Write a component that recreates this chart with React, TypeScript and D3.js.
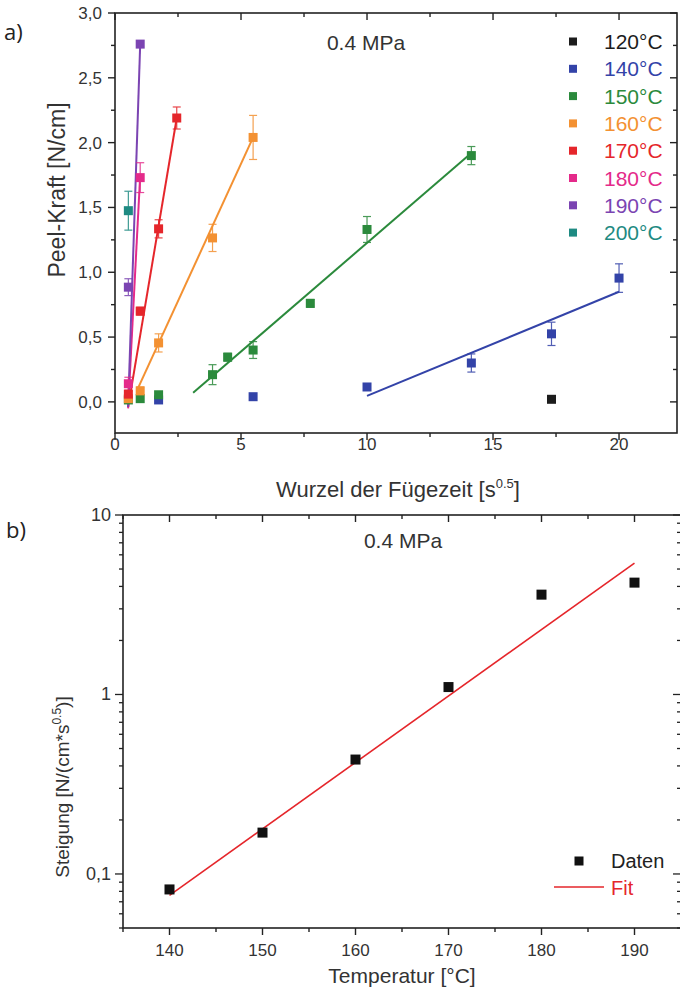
import React from 'react';
import * as d3 from 'd3';

// ---------- Chart a) data ----------
const seriesLabels = ['120°C', '140°C', '150°C', '160°C', '170°C', '180°C', '190°C', '200°C'];
const seriesColors = ['#1c1c1c', '#3343a8', '#2b8a3c', '#f39132', '#e5262b', '#e42a8a', '#7b44b2', '#1e8a82'];
// points: [sqrt(t), peel force, error]
const pts120 = [[17.32, 0.02, 0]];
const pts140 = [[1.73, 0.015, 0], [5.48, 0.04, 0], [10, 0.115, 0], [14.14, 0.3, 0.07], [17.32, 0.525, 0.09], [20, 0.955, 0.11]];
const pts150 = [[0.53, 0.015, 0], [1.0, 0.025, 0], [1.73, 0.055, 0], [3.87, 0.21, 0.077], [4.47, 0.345, 0.03], [5.48, 0.4, 0.065], [7.75, 0.76, 0.03], [10, 1.33, 0.1], [14.14, 1.9, 0.07]];
const pts160 = [[0.53, 0.025, 0], [1.0, 0.085, 0.03], [1.73, 0.455, 0.07], [3.87, 1.265, 0.105], [5.48, 2.04, 0.17]];
const pts170 = [[0.53, 0.06, 0.02], [1.0, 0.7, 0.03], [1.73, 1.335, 0.07], [2.45, 2.19, 0.085]];
const pts180 = [[0.53, 0.14, 0.05], [1.0, 1.73, 0.115]];
const pts190 = [[0.53, 0.885, 0.065], [1.0, 2.76, 0]];
const pts200 = [[0.53, 1.475, 0.15]];
const seriesPoints = [pts120, pts140, pts150, pts160, pts170, pts180, pts190, pts200];
// linear fits: [x1, y1, x2, y2]
const fits = [null, [10, 0.046, 20, 0.85], [3.1, 0.07, 14.14, 1.92], [0.9, 0.1, 5.48, 2.04], [0.52, -0.04, 2.45, 2.19], [0.52, -0.05, 1.0, 1.75], [0.52, -0.04, 1.0, 2.76], null];
const xTicksA = [0, 5, 10, 15, 20];
const yTicksA = [0, 0.5, 1, 1.5, 2, 2.5, 3];
const yTickLabelsA = ['0,0', '0,5', '1,0', '1,5', '2,0', '2,5', '3,0'];

// ---------- Chart b) data ----------
const temps = [140, 150, 160, 170, 180, 190];
const slopes = [0.082, 0.17, 0.434, 1.1, 3.6, 4.2];
const fitTemps = [140, 190];
const fitSlopes = [0.076, 5.4];
const xTicksB = [140, 150, 160, 170, 180, 190];
const yTicksB = [0.1, 1, 10];
const yTickLabelsB = ['0,1', '1', '10'];

const FONT = 'Liberation Sans, Arial, sans-serif';

export default function App() {
  const xA = d3.scaleLinear().domain([0, 22.3]).range([115, 677]);
  const yA = d3.scaleLinear().domain([-0.24, 3]).range([433, 13]);
  const xB = d3.scaleLinear().domain([135, 195]).range([123, 681]);
  const yB = d3.scaleLog().domain([0.05, 10]).range([928, 515]);

  const [ax0, ax1] = xA.range();
  const [ay0, ay1] = yA.range();
  const [bx0, bx1] = xB.range();
  const [by0, by1] = yB.range();

  const xMinorA = d3.range(0, 22.3, 2.5);
  const yMinorA = d3.range(-0.25, 3.01, 0.25).filter((v) => v >= -0.24);
  const xMinorB = d3.range(135, 196, 5);
  const yMinorB: number[] = [];
  [0.01, 0.1, 1].forEach((d) => {
    for (let k = 1; k <= 9; k++) {
      const v = d * k;
      if (v >= 0.05 && v <= 10) yMinorB.push(v);
    }
  });
  yMinorB.push(10);

  const line = d3.line<[number, number]>();
  const S = 9;

  return (
    <svg width={680} height={992} style={{ position: 'absolute', left: 0, top: 0, background: '#fff' }} fontFamily={FONT}>
      <rect x={0} y={0} width={680} height={992} fill="#fff" />
      {/* ===== Chart a ===== */}
      <text x={4} y={40} fontSize={22} fontFamily="Open Sans, sans-serif" fill="#222">a)</text>
      <rect x={ax0} y={ay1} width={ax1 - ax0} height={ay0 - ay1} fill="none" stroke="#222" strokeWidth={1.6} />
      {xMinorA.map((v, i) => {
        const major = Math.abs(v % 5) < 1e-6;
        const L = major ? 7 : 4;
        return (
          <g key={'xa' + i} stroke="#222" strokeWidth={1.4}>
            <line x1={xA(v)} x2={xA(v)} y1={ay0} y2={ay0 + L} />
            <line x1={xA(v)} x2={xA(v)} y1={ay1} y2={ay1 + L} />
          </g>
        );
      })}
      {yMinorA.map((v, i) => {
        const major = Math.abs((v * 2) - Math.round(v * 2)) < 1e-6;
        const L = major ? 7 : 4;
        return (
          <g key={'ya' + i} stroke="#222" strokeWidth={1.4}>
            <line x1={ax0 - L} x2={ax0} y1={yA(v)} y2={yA(v)} />
            <line x1={ax1 - L} x2={ax1} y1={yA(v)} y2={yA(v)} />
          </g>
        );
      })}
      {xTicksA.map((v) => (
        <text key={'xla' + v} x={xA(v)} y={450} fontSize={17} textAnchor="middle" fill="#333">{v}</text>
      ))}
      {yTicksA.map((v, i) => (
        <text key={'yla' + v} x={102} y={yA(v) + 6} fontSize={17} textAnchor="end" fill="#333">{yTickLabelsA[i]}</text>
      ))}
      <text x={(ax0 + ax1) / 2 + 2} y={497} fontSize={22} textAnchor="middle" fill="#333">
        Wurzel der Fügezeit [s<tspan fontSize={13} dy={-9}>0.5</tspan><tspan dy={9}>]</tspan>
      </text>
      <text transform={`translate(65,${190}) rotate(-90)`} fontSize={23} textAnchor="middle" fill="#333">Peel-Kraft [N/cm]</text>
      <text x={366} y={50} fontSize={21} textAnchor="middle" fill="#333">0.4 MPa</text>

      {fits.map((f, i) =>
        f ? (
          <path key={'fit' + i} d={line([[xA(f[0]), yA(f[1])], [xA(f[2]), yA(f[3])]]) || ''} stroke={seriesColors[i]} strokeWidth={2} fill="none" />
        ) : null
      )}
      {seriesPoints.map((pts, i) =>
        pts.map((p, j) =>
          p[2] > 0 ? (
            <g key={'eb' + i + '-' + j} stroke={seriesColors[i]} strokeWidth={1.2} opacity={0.85}>
              <line x1={xA(p[0])} x2={xA(p[0])} y1={yA(p[1] - p[2])} y2={yA(p[1] + p[2])} />
              <line x1={xA(p[0]) - 4} x2={xA(p[0]) + 4} y1={yA(p[1] - p[2])} y2={yA(p[1] - p[2])} />
              <line x1={xA(p[0]) - 4} x2={xA(p[0]) + 4} y1={yA(p[1] + p[2])} y2={yA(p[1] + p[2])} />
            </g>
          ) : null
        )
      )}
      {seriesPoints.map((pts, i) =>
        pts.map((p, j) => (
          <rect key={'pt' + i + '-' + j} x={xA(p[0]) - S / 2} y={yA(p[1]) - S / 2} width={S} height={S} fill={seriesColors[i]} />
        ))
      )}
      {seriesLabels.map((lab, i) => (
        <g key={'lg' + i}>
          <rect x={573 - 4} y={41.5 + i * 27.3 - 4} width={8} height={8} fill={seriesColors[i]} />
          <text x={604} y={41.5 + i * 27.3 + 7.5} fontSize={21} fill={seriesColors[i]}>{lab}</text>
        </g>
      ))}

      {/* ===== Chart b ===== */}
      <text x={6} y={538} fontSize={22} fontFamily="Open Sans, sans-serif" fill="#222">b)</text>
      <rect x={bx0} y={by1} width={bx1 - bx0} height={by0 - by1} fill="none" stroke="#222" strokeWidth={1.6} />
      {xMinorB.map((v, i) => {
        const major = v % 10 === 0;
        const L = major ? 7 : 4;
        return (
          <g key={'xb' + i} stroke="#222" strokeWidth={1.4}>
            <line x1={xB(v)} x2={xB(v)} y1={by0} y2={by0 + L} />
            <line x1={xB(v)} x2={xB(v)} y1={by1} y2={by1 + L} />
          </g>
        );
      })}
      {yMinorB.map((v, i) => {
        const major = yTicksB.some((t) => Math.abs(t - v) < 1e-9);
        const L = major ? 8 : 4;
        return (
          <g key={'yb' + i} stroke="#222" strokeWidth={1.3}>
            <line x1={bx0 - L} x2={bx0} y1={yB(v)} y2={yB(v)} />
            <line x1={bx1 - L} x2={bx1} y1={yB(v)} y2={yB(v)} />
          </g>
        );
      })}
      {xTicksB.map((v) => (
        <text key={'xlb' + v} x={xB(v)} y={956} fontSize={17} textAnchor="middle" fill="#333">{v}</text>
      ))}
      {yTicksB.map((v, i) => (
        <text key={'ylb' + v} x={111} y={yB(v) + 6} fontSize={18} textAnchor="end" fill="#333">{yTickLabelsB[i]}</text>
      ))}
      <text x={402} y={983} fontSize={21} textAnchor="middle" fill="#333">Temperatur [°C]</text>
      <text transform={`translate(69,787) rotate(-90)`} fontSize={19} textAnchor="middle" fill="#333">
        Steigung [N/(cm*s<tspan fontSize={12} dy={-8}>0.5</tspan><tspan dy={8}>)]</tspan>
      </text>
      <text x={403} y={548} fontSize={21} textAnchor="middle" fill="#333">0.4 MPa</text>
      <path d={line([[xB(fitTemps[0]), yB(fitSlopes[0])], [xB(fitTemps[1]), yB(fitSlopes[1])]]) || ''} stroke="#e5262b" strokeWidth={1.6} fill="none" />
      {temps.map((t, i) => (
        <rect key={'bp' + i} x={xB(t) - 5} y={yB(slopes[i]) - 5} width={10} height={10} fill="#111" />
      ))}
      <rect x={579 - 4.5} y={861 - 4.5} width={9} height={9} fill="#111" />
      <text x={611} y={868} fontSize={20} fill="#222">Daten</text>
      <line x1={554} x2={604} y1={887} y2={887} stroke="#e5262b" strokeWidth={1.6} />
      <text x={611} y={895} fontSize={20} fill="#e5262b">Fit</text>
    </svg>
  );
}
